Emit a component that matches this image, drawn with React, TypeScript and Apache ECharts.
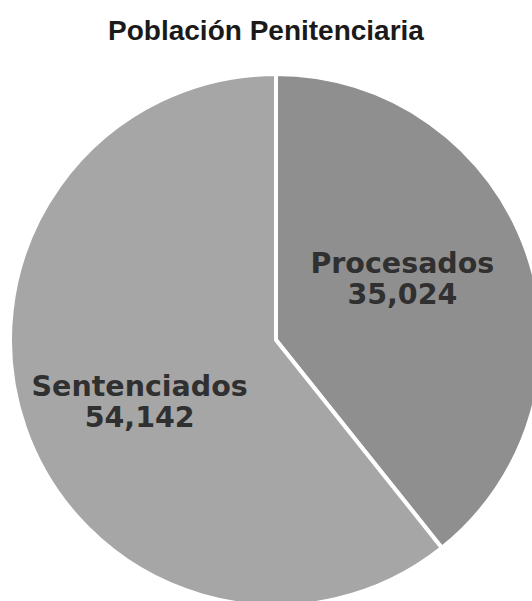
import React, { useEffect, useRef } from "react";
import * as echarts from "echarts";

const titleText = "Población Penitenciaria";
const categories = ["Procesados", "Sentenciados"];
const values = [35024, 54142];
const colors = ["#8f8f8f", "#a6a6a6"];
const labelOffsets: [number, number][] = [
  [-2, -16],
  [-8, 17],
];

export default function App() {
  const ref = useRef<HTMLDivElement>(null);
  useEffect(() => {
    if (!ref.current) return;
    const chart = echarts.init(ref.current, undefined, { renderer: "svg" });
    chart.setOption({
      animation: false,
      backgroundColor: "#ffffff",
      title: {
        text: titleText,
        left: "center",
        top: 11,
        textStyle: {
          fontFamily: "Liberation Sans, Arial, sans-serif",
          fontWeight: "bold",
          fontSize: 28,
          color: "#1a1a1a",
        },
      },
      series: [
        {
          type: "pie",
          center: [276, 340],
          radius: [0, 266],
          startAngle: 90,
          clockwise: true,
          silent: true,
          itemStyle: { borderColor: "#ffffff", borderWidth: 4 },
          label: {
            show: true,
            position: "inside",
            formatter: (p: any) =>
              p.name + "\n" + Number(p.value).toLocaleString("en-US"),
            fontFamily: "DejaVu Sans, sans-serif",
            fontWeight: "bold",
            fontSize: 28.5,
            lineHeight: 31,
            color: "#303030",
            align: "center",
          },
          labelLine: { show: false },
          data: categories.map((c, i) => ({
            name: c,
            value: values[i],
            itemStyle: { color: colors[i] },
            label: { offset: labelOffsets[i] },
          })),
        },
      ],
    });
    return () => chart.dispose();
  }, []);
  return (
    <div
      ref={ref}
      style={{ position: "fixed", left: 0, top: 0, width: 532, height: 601 }}
    />
  );
}
